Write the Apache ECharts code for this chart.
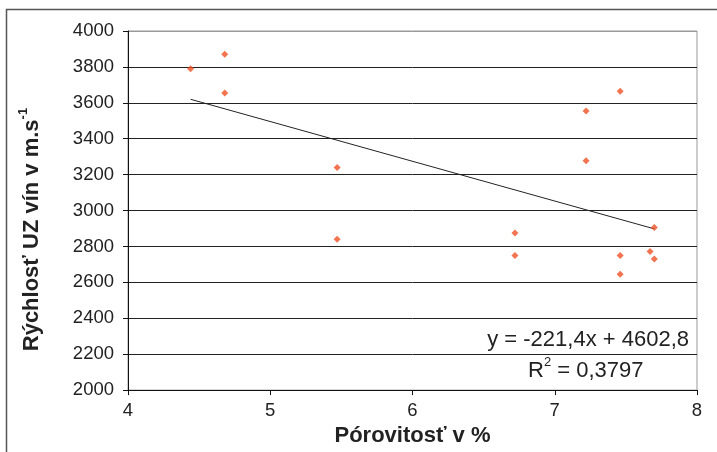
<!DOCTYPE html>
<html>
<head>
<meta charset="utf-8">
<script src="https://cdn.jsdelivr.net/npm/echarts@6/dist/echarts.min.js"></script>
<style>
  html, body { margin: 0; padding: 0; background: #fff; }
  #chart { width: 717px; height: 452px; }
</style>
</head>
<body>
<div id="chart"></div>
<script>
// pórovitosť v % a rýchlosť UZ vín (odčítané z grafu)
const porosity = [4.44, 4.68, 4.68, 5.47, 5.47, 6.72, 6.72, 7.22, 7.22, 7.46, 7.46, 7.46, 7.67, 7.70, 7.70]
const velocity = [3790, 3870, 3655, 3240, 2840, 2875, 2750, 3555, 3278, 3665, 2750, 2645, 2772, 2730, 2905]

// lineárny trend z legendy grafu
const slope = -221.4
const intercept = 4602.8
const r2Label = '0,3797'

const points = porosity.map((x, i) => [x, velocity[i]])
const xMin = Math.min(...porosity)
const xMax = Math.max(...porosity)
const trend = [[xMin, slope * xMin + intercept], [xMax, slope * xMax + intercept]]

const font = 'Liberation Sans'
const gridColors = ['#222', '#222', '#222', '#222', '#222', '#222', '#222', '#222', '#222', '#222', '#999']

const myChart = echarts.init(document.getElementById('chart'))

const option = {
  animation: false,
  textStyle: { fontFamily: font },
  grid: {
    left: 128,
    right: 20,
    top: 31,
    bottom: 61,
    show: true,
    borderColor: '#999',
    borderWidth: 1,
  },
  xAxis: {
    type: 'value',
    min: 4,
    max: 8,
    interval: 1,
    name: 'Pórovitosť v %',
    nameLocation: 'middle',
    nameGap: 33,
    nameTextStyle: { fontSize: 22, fontWeight: 'bold', color: '#222', fontFamily: font },
    axisLine: { lineStyle: { color: '#111', width: 1 } },
    axisTick: { show: true, length: 5, lineStyle: { color: '#111' } },
    axisLabel: { fontSize: 18.5, color: '#222', margin: 11, fontFamily: font },
    splitLine: { show: false },
  },
  yAxis: {
    type: 'value',
    min: 2000,
    max: 4000,
    interval: 200,
    name: '{a|Rýchlosť UZ vín v m.s}{b|-1}',
    nameLocation: 'middle',
    nameGap: 85,
    nameRotate: 90,
    nameTextStyle: {
      padding: [0, 38, 0, 0],
      rich: {
        a: { fontSize: 22, fontWeight: 'bold', color: '#222', fontFamily: font, lineHeight: 26, verticalAlign: 'bottom' },
        b: { fontSize: 13, fontWeight: 'bold', color: '#222', fontFamily: font, lineHeight: 26, verticalAlign: 'top' },
      },
    },
    axisLine: { show: true, lineStyle: { color: '#111', width: 1 } },
    axisTick: { show: true, length: 5, lineStyle: { color: '#111' } },
    axisLabel: { fontSize: 18.5, color: '#222', margin: 14, fontFamily: font, formatter: v => String(v) },
    splitLine: { show: true, lineStyle: { color: gridColors, width: 1 } },
  },
  graphic: [
    {
      type: 'rect',
      shape: { x: 6.5, y: 9.5, width: 800, height: 600 },
      style: { fill: 'none', stroke: '#555', lineWidth: 1.5 },
      silent: true,
    },
    {
      type: 'text',
      right: 28,
      top: 329,
      style: {
        text: 'y = -221,4x + 4602,8',
        fontSize: 22,
        fontFamily: font,
        fill: '#222',
      },
    },
    {
      type: 'text',
      left: 528,
      top: 356,
      style: {
        text: '{a|R}{b|2}{a| = ' + r2Label + '}',
        rich: {
          a: { fontSize: 22, fontFamily: font, fill: '#222', color: '#222', lineHeight: 26, verticalAlign: 'bottom' },
          b: { fontSize: 13, fontFamily: font, fill: '#222', color: '#222', lineHeight: 26, verticalAlign: 'top' },
        },
      },
    },
  ],
  series: [
    {
      type: 'line',
      data: trend,
      showSymbol: false,
      symbol: 'none',
      lineStyle: { color: '#222', width: 1 },
      z: 2,
    },
    {
      type: 'scatter',
      data: points,
      symbol: 'diamond',
      symbolSize: 7,
      itemStyle: { color: '#EE5024' },
      z: 3,
    },
  ],
}

myChart.setOption(option)
</script>
</body>
</html>
